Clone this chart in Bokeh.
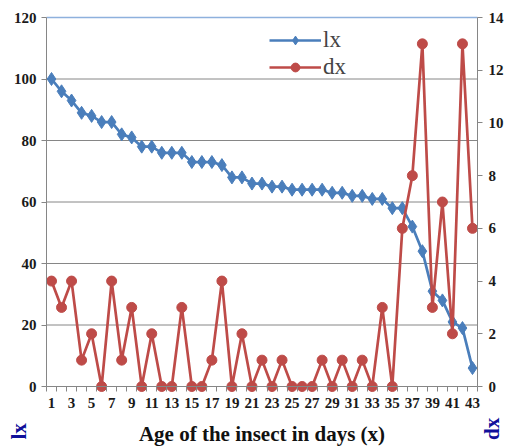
from bokeh.plotting import figure
from bokeh.models import Range1d, LinearAxis, FixedTicker, Label, Legend
from bokeh.embed import file_html
from bokeh.resources import INLINE

# Life table of the insect: age in days, survivors (lx) and deaths (dx)
age = list(range(1, 44))
lx = [100, 96, 93, 89, 88, 86, 86, 82, 81, 78, 78, 76, 76, 76, 73, 73, 73, 72,
      68, 68, 66, 66, 65, 65, 64, 64, 64, 64, 63, 63, 62, 62, 61, 61, 58, 58,
      52, 44, 31, 28, 21, 19, 6]
dx = [4, 3, 4, 1, 2, 0, 4, 1, 3, 0, 2, 0, 0, 3, 0, 0, 1, 4, 0, 2, 0, 1, 0, 1,
      0, 0, 0, 1, 0, 1, 0, 1, 0, 3, 0, 6, 8, 13, 3, 7, 2, 13, 6]
x_tick_labels = list(range(1, 44, 2))
lx_ticks = [0, 20, 40, 60, 80, 100, 120]
dx_ticks = [0, 2, 4, 6, 8, 10, 12, 14]

SERIF = "Liberation Serif"
BLUE = "#4a7ebb"
RED = "#be4b48"
AXIS_GRAY = "#868686"
NAVY = "#10109a"

# The plotting area fills the whole canvas; the axes sit at fixed data
# positions so that the side texts can be drawn anywhere on the page.
W, H = 510, 448
M_LEFT, M_RIGHT, M_TOP, M_BOTTOM = 46, 33, 17, 62
day_lo, day_hi = age[0] - 0.5, age[-1] + 0.5
lx_max, dx_max = lx_ticks[-1], dx_ticks[-1]
kx = (day_hi - day_lo) / (W - M_LEFT - M_RIGHT)
ky = lx_max / (H - M_TOP - M_BOTTOM)
kd = dx_max / (H - M_TOP - M_BOTTOM)

p = figure(width=W, height=H, output_backend="svg", toolbar_location=None,
           x_axis_location=None, y_axis_location=None,
           x_range=Range1d(day_lo - M_LEFT * kx, day_hi + M_RIGHT * kx),
           y_range=Range1d(-M_BOTTOM * ky, lx_max + M_TOP * ky),
           min_border=0, min_border_left=0, min_border_right=0,
           min_border_top=0, min_border_bottom=0)
p.extra_y_ranges = {"dx": Range1d(-M_BOTTOM * kd, dx_max + M_TOP * kd)}
p.outline_line_color = None
p.grid.visible = False


def style_axis(ax):
    ax.axis_line_color = AXIS_GRAY
    ax.major_tick_line_color = AXIS_GRAY
    ax.minor_tick_line_color = AXIS_GRAY
    ax.major_label_text_font = SERIF
    ax.major_label_text_font_style = "bold"
    ax.major_label_text_font_size = "15px"
    ax.major_label_text_color = "#1a1a1a"


# horizontal grid lines of the left scale (top one in light blue)
p.segment(x0=[day_lo] * (len(lx_ticks) - 2), x1=[day_hi] * (len(lx_ticks) - 2),
          y0=lx_ticks[1:-1], y1=lx_ticks[1:-1], line_color=AXIS_GRAY,
          line_width=1, level="underlay")
p.segment(x0=[day_lo], x1=[day_hi], y0=[lx_max], y1=[lx_max],
          line_color="#8eb1dd", line_width=1.5, level="underlay")

# x axis: labels on odd days, small ticks between days
xa = LinearAxis(fixed_location=0, bounds=(day_lo, day_hi),
                ticker=FixedTicker(ticks=x_tick_labels,
                                   minor_ticks=[a - 0.5 for a in age] + [day_hi]))
style_axis(xa)
xa.major_tick_out = 0
xa.major_tick_in = 0
xa.minor_tick_out = 5
xa.minor_tick_in = 0
xa.major_label_standoff = 6
xa.axis_label = "Age of the insect in days (x)"
xa.axis_label_text_font = SERIF
xa.axis_label_text_font_style = "bold"
xa.axis_label_text_font_size = "21px"
xa.axis_label_text_color = "#111111"
xa.axis_label_standoff = 11
p.add_layout(xa, "below")

ya = LinearAxis(fixed_location=day_lo, bounds=(0, lx_max),
                ticker=FixedTicker(ticks=lx_ticks, minor_ticks=[]))
style_axis(ya)
ya.major_tick_out = 5
ya.major_tick_in = 0
ya.minor_tick_out = 0
ya.minor_tick_in = 0
ya.major_label_standoff = 5
p.add_layout(ya, "left")

ra = LinearAxis(fixed_location=day_hi, y_range_name="dx", bounds=(0, dx_max),
                ticker=FixedTicker(ticks=dx_ticks, minor_ticks=[]))
style_axis(ra)
ra.major_tick_out = 5
ra.major_tick_in = 0
ra.minor_tick_out = 0
ra.minor_tick_in = 0
ra.major_label_standoff = 6
p.add_layout(ra, "right")

# survivors (left axis)
l1 = p.line(age, lx, line_color=BLUE, line_width=2.7)
s1 = p.scatter(age, lx, marker="diamond", size=13, fill_color=BLUE,
               line_color=BLUE)
# deaths (right axis)
l2 = p.line(age, dx, line_color=RED, line_width=2.7, y_range_name="dx")
s2 = p.scatter(age, dx, marker="circle", size=10, fill_color=RED,
               line_color=RED, y_range_name="dx")

legend = Legend(items=[("lx", [l1, s1]), ("dx", [l2, s2])],
                location=(269, 368), border_line_color=None,
                background_fill_alpha=0, glyph_width=52, glyph_height=22,
                label_text_font=SERIF, label_text_font_size="23px",
                label_standoff=2, spacing=1, padding=4, margin=0)
p.add_layout(legend, "center")

# names of the two scales, written upright in the bottom corners
p.add_layout(Label(x=day_lo - 2.7, y=-14.6, text="lx", angle=1.5708,
                   text_align="center", text_baseline="middle",
                   text_font=SERIF, text_font_style="bold",
                   text_font_size="21px", text_color=NAVY))
p.add_layout(Label(x=day_hi + 1.4, y=-13.8, text="dx", angle=1.5708,
                   text_align="center", text_baseline="middle",
                   text_font=SERIF, text_font_style="bold",
                   text_font_size="21px", text_color=NAVY))

open("out.html", "w").write(file_html(p, INLINE))
